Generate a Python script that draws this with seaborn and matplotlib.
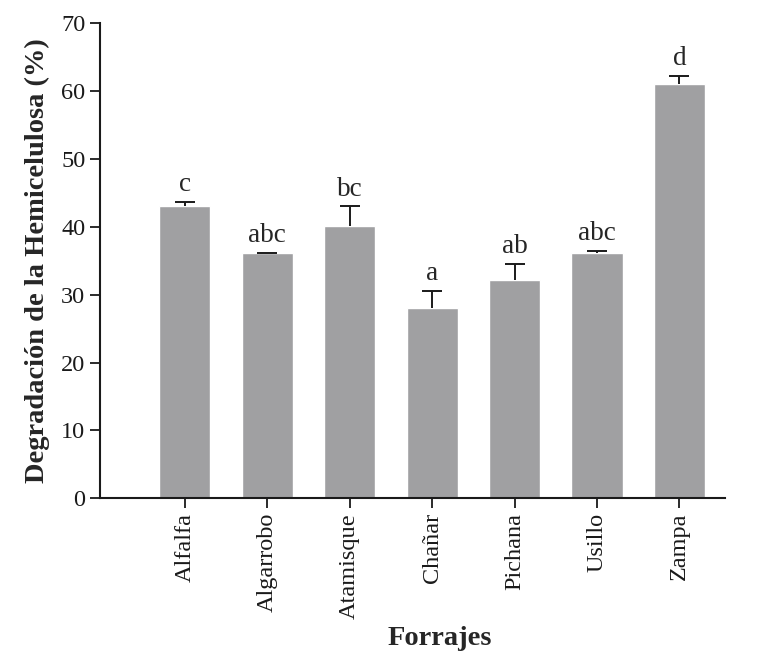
import numpy as np
import pandas as pd
import seaborn as sns
import matplotlib.pyplot as plt

# data
forrajes = ["Alfalfa", "Algarrobo", "Atamisque", "Chañar", "Pichana", "Usillo", "Zampa"]
degradacion = [43.0, 36.1, 40.1, 28.1, 32.1, 36.1, 61.0]
error_sup = [0.7, 0.1, 2.9, 2.4, 2.4, 0.4, 1.2]
letras = ["c", "abc", "bc", "a", "ab", "abc", "d"]

df = pd.DataFrame({"Forrajes": forrajes, "Degradacion": degradacion})

sns.set_style("ticks")
plt.rcParams["font.family"] = ["Liberation Serif", "DejaVu Serif"]

fig = plt.figure(figsize=(7.81, 6.6), dpi=100)
ax = fig.add_axes([0.128, 0.245, 0.8, 0.72])

sns.barplot(data=df, x="Forrajes", y="Degradacion", color="#a0a0a2",
            saturation=1, width=0.62, errorbar=None, ax=ax)

# upper error bars only: stem + top cap
x = np.arange(len(forrajes))
tops = np.array(degradacion) + np.array(error_sup)
ax.vlines(x, degradacion, tops, color="#1a1a1a", linewidth=1.4)
ax.plot(x, tops, linestyle="none", marker="_", markersize=14,
        markeredgewidth=1.4, color="#1a1a1a")

#significance letters
for xi, t, lab in zip(x, tops, letras):
    ax.text(xi, t + 0.7, lab, ha="center", va="bottom", fontsize=19.5)

ax.set_ylim(0, 70)
ax.set_xlim(-1.03, 6.55)
ax.set_yticks(range(0, 71, 10))
ax.tick_params(axis="both", labelsize=17.5, width=1.3, length=7, colors="#1a1a1a")
plt.xticks(rotation=90)
ax.set_xlabel("Forrajes", fontsize=20.5, fontweight="bold")
ax.xaxis.set_label_coords(0.544, -0.268)
ax.set_ylabel("Degradación de la Hemicelulosa (%)", fontsize=20.5, fontweight="bold", labelpad=8)
for s in ["top", "right"]:
    ax.spines[s].set_visible(False)
for s in ["left", "bottom"]:
    ax.spines[s].set_linewidth(1.5)
    ax.spines[s].set_color("#1a1a1a")

plt.savefig("out.png", dpi=100)
